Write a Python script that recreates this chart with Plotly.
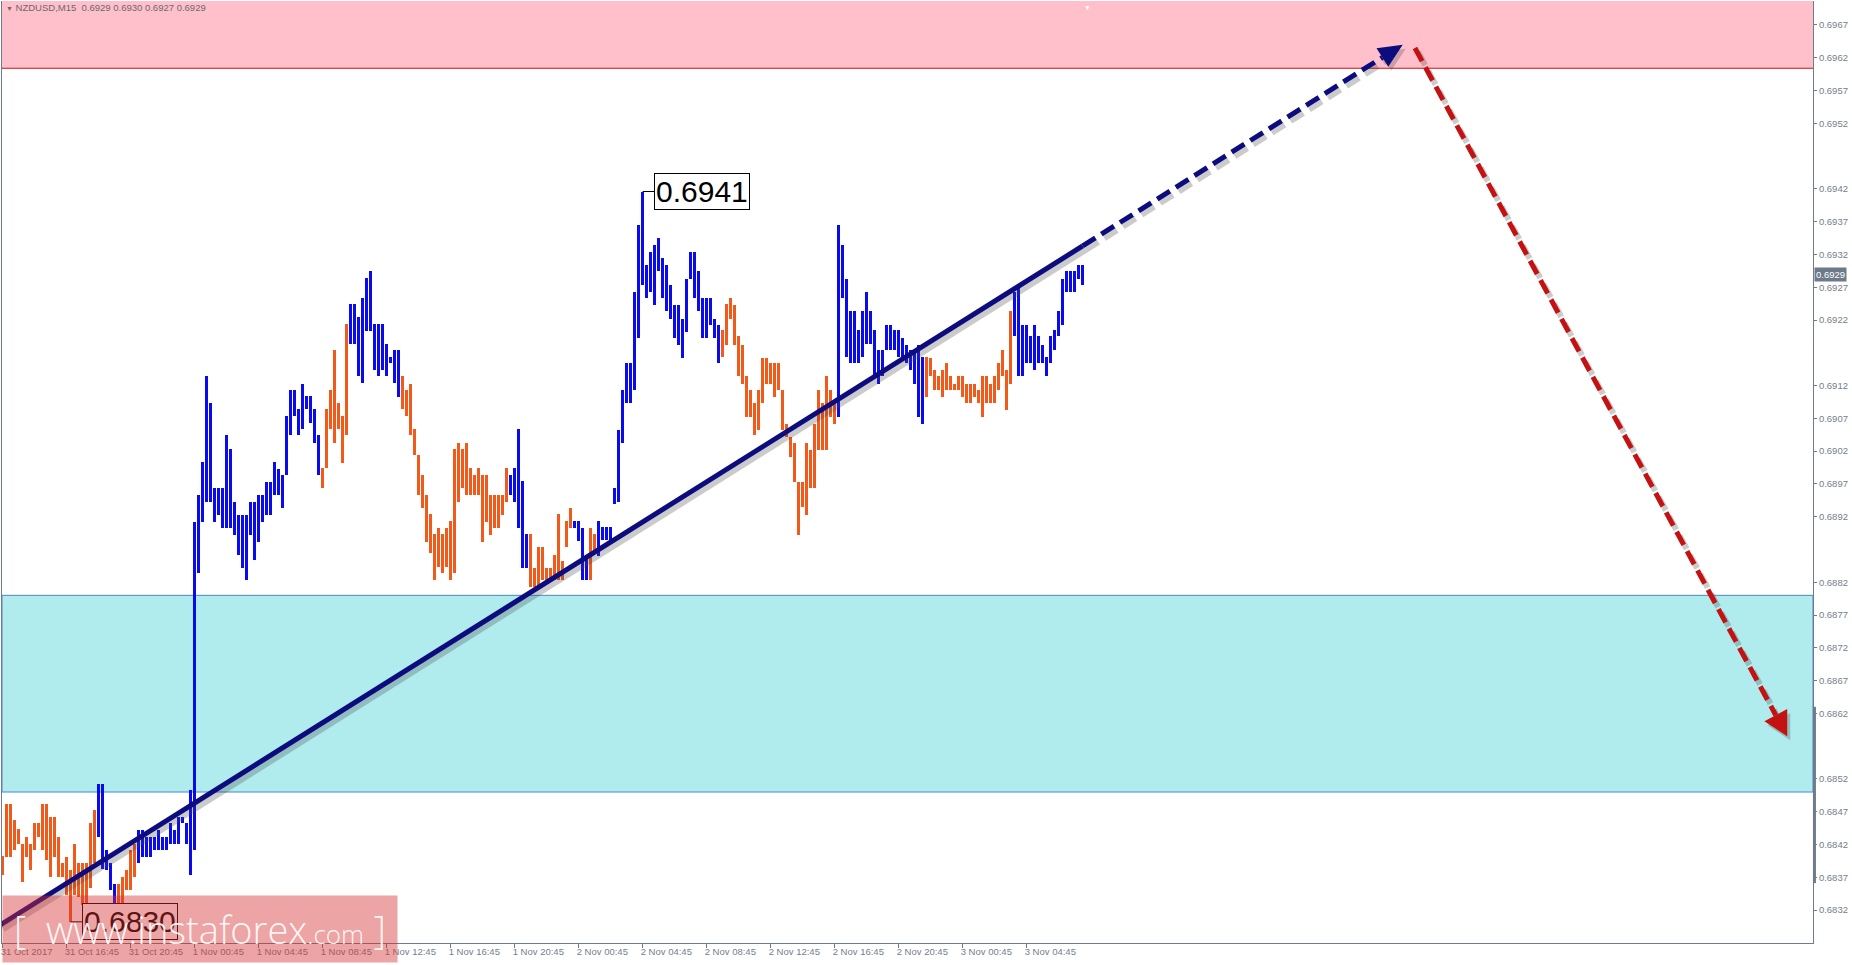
import numpy as np
import pandas as pd
import plotly.graph_objects as go

# ------------------------------------------------------------------ data
header_text = "NZDUSD,M15&nbsp;&nbsp;0.6929 0.6930 0.6927 0.6929"
last_close = 0.6929
first_bar_time = "2017-10-31 12:45"

bar_high = [
    0.68403, 0.68482, 0.68482, 0.68457, 0.68444, 0.68421, 0.68432, 0.68421, 0.68452, 0.68452,
    0.68482, 0.68482, 0.68462, 0.68462, 0.68432, 0.68391, 0.68401, 0.68381, 0.68421, 0.68391,
    0.68391, 0.68391, 0.68452, 0.68472, 0.68513, 0.68513, 0.68411, 0.68391, 0.68360, 0.68360,
    0.68371, 0.68381, 0.68411, 0.68421, 0.68442, 0.68442, 0.68432, 0.68432, 0.68432, 0.68442,
    0.68432, 0.68432, 0.68452, 0.68442, 0.68462, 0.68462, 0.68452, 0.68503, 0.68912, 0.68953,
    0.69004, 0.69135, 0.69094, 0.68963, 0.68963, 0.68963, 0.69045, 0.69023, 0.68943, 0.68923,
    0.68923, 0.68923, 0.68943, 0.68943, 0.68953, 0.68953, 0.68973, 0.68973, 0.69003, 0.68993,
    0.68984, 0.69074, 0.69114, 0.69114, 0.69084, 0.69123, 0.69104, 0.69104, 0.69084, 0.69045,
    0.68994, 0.69084, 0.69114, 0.69174, 0.69094, 0.69074, 0.69214, 0.69244, 0.69244, 0.69225,
    0.69254, 0.69284, 0.69295, 0.69214, 0.69214, 0.69214, 0.69183, 0.69164, 0.69174, 0.69174,
    0.69135, 0.69114, 0.69123, 0.69053, 0.69014, 0.68984, 0.68953, 0.68924, 0.68893, 0.68903,
    0.68893, 0.68903, 0.68913, 0.69023, 0.69033, 0.69023, 0.69033, 0.68994, 0.68984, 0.68994,
    0.68984, 0.68984, 0.68953, 0.68953, 0.68953, 0.68953, 0.68994, 0.68984, 0.68994, 0.69053,
    0.68974, 0.68893, 0.68893, 0.68842, 0.68873, 0.68873, 0.68842, 0.68842, 0.68862, 0.68924,
    0.68852, 0.68913, 0.68933, 0.68913, 0.68913, 0.68903, 0.68862, 0.68903, 0.68893, 0.68913,
    0.68905, 0.68905, 0.68905, 0.68963, 0.69052, 0.69113, 0.69154, 0.69154, 0.69263, 0.69365,
    0.69416, 0.69304, 0.69324, 0.69334, 0.69345, 0.69314, 0.69304, 0.69273, 0.69243, 0.69243,
    0.69222, 0.69283, 0.69324, 0.69324, 0.69294, 0.69253, 0.69253, 0.69253, 0.69222, 0.69212,
    0.69205, 0.69245, 0.69253, 0.69243, 0.69195, 0.69182, 0.69134, 0.69113, 0.69093, 0.69113,
    0.69162, 0.69162, 0.69154, 0.69154, 0.69154, 0.69113, 0.69062, 0.69042, 0.69032, 0.68973,
    0.68973, 0.69032, 0.69022, 0.69062, 0.69113, 0.69093, 0.69134, 0.69113, 0.69093, 0.69365,
    0.69334, 0.69283, 0.69233, 0.69233, 0.69205, 0.69233, 0.69263, 0.69233, 0.69205, 0.69174,
    0.69174, 0.69212, 0.69212, 0.69205, 0.69205, 0.69192, 0.69182, 0.69174, 0.69172, 0.69182,
    0.69164, 0.69164, 0.69162, 0.69144, 0.69134, 0.69144, 0.69154, 0.69134, 0.69123, 0.69134,
    0.69134, 0.69123, 0.69123, 0.69123, 0.69113, 0.69134, 0.69134, 0.69123, 0.69134, 0.69154,
    0.69174, 0.69144, 0.69233, 0.69263, 0.69273, 0.69212, 0.69212, 0.69195, 0.69212, 0.69195,
    0.69182, 0.69164, 0.69195, 0.69205, 0.69233, 0.69283, 0.69294, 0.69294, 0.69294, 0.69304,
    0.69304,
]
bar_low = [
    0.68373, 0.68401, 0.68401, 0.68411, 0.68421, 0.68363, 0.68401, 0.68381, 0.68411, 0.68432,
    0.68411, 0.68396, 0.68371, 0.68401, 0.68371, 0.68371, 0.68343, 0.68302, 0.68343, 0.68340,
    0.68327, 0.68330, 0.68353, 0.68391, 0.68432, 0.68383, 0.68381, 0.68350, 0.68322, 0.68322,
    0.68322, 0.68350, 0.68350, 0.68371, 0.68391, 0.68401, 0.68401, 0.68401, 0.68411, 0.68411,
    0.68411, 0.68411, 0.68421, 0.68421, 0.68421, 0.68452, 0.68421, 0.68373, 0.68411, 0.68834,
    0.68912, 0.68943, 0.68943, 0.68912, 0.68923, 0.68902, 0.68902, 0.68902, 0.68892, 0.68862,
    0.68841, 0.68823, 0.68892, 0.68854, 0.68882, 0.68912, 0.68923, 0.68923, 0.68953, 0.68953,
    0.68933, 0.68984, 0.69045, 0.69073, 0.69045, 0.69053, 0.69084, 0.69063, 0.69033, 0.68984,
    0.68963, 0.68994, 0.69053, 0.69033, 0.69053, 0.69002, 0.69045, 0.69183, 0.69183, 0.69135,
    0.69124, 0.69203, 0.69203, 0.69144, 0.69135, 0.69144, 0.69135, 0.69154, 0.69124, 0.69103,
    0.69084, 0.69074, 0.69045, 0.69014, 0.68953, 0.68933, 0.68882, 0.68864, 0.68823, 0.68844,
    0.68834, 0.68844, 0.68823, 0.68834, 0.68943, 0.68963, 0.68953, 0.68953, 0.68953, 0.68953,
    0.68882, 0.68912, 0.68892, 0.68902, 0.68902, 0.68923, 0.68943, 0.68953, 0.68943, 0.68903,
    0.68841, 0.68841, 0.68813, 0.68813, 0.68813, 0.68823, 0.68823, 0.68823, 0.68823, 0.68823,
    0.68823, 0.68873, 0.68903, 0.68903, 0.68883, 0.68823, 0.68823, 0.68823, 0.68864, 0.68860,
    0.68884, 0.68884, 0.68884, 0.68940, 0.68943, 0.69032, 0.69093, 0.69093, 0.69113, 0.69192,
    0.69273, 0.69253, 0.69263, 0.69243, 0.69294, 0.69253, 0.69233, 0.69222, 0.69192, 0.69182,
    0.69162, 0.69202, 0.69283, 0.69253, 0.69233, 0.69192, 0.69192, 0.69212, 0.69192, 0.69154,
    0.69164, 0.69182, 0.69222, 0.69182, 0.69134, 0.69123, 0.69072, 0.69072, 0.69045, 0.69052,
    0.69093, 0.69123, 0.69123, 0.69103, 0.69113, 0.69052, 0.69042, 0.69011, 0.68973, 0.68892,
    0.68935, 0.68922, 0.68963, 0.68963, 0.69022, 0.69022, 0.69022, 0.69072, 0.69062, 0.69072,
    0.69253, 0.69164, 0.69154, 0.69154, 0.69154, 0.69164, 0.69184, 0.69184, 0.69134, 0.69123,
    0.69134, 0.69174, 0.69174, 0.69174, 0.69164, 0.69164, 0.69154, 0.69144, 0.69123, 0.69072,
    0.69062, 0.69103, 0.69134, 0.69113, 0.69113, 0.69103, 0.69113, 0.69113, 0.69113, 0.69113,
    0.69103, 0.69093, 0.69093, 0.69103, 0.69093, 0.69072, 0.69093, 0.69093, 0.69093, 0.69113,
    0.69134, 0.69083, 0.69123, 0.69195, 0.69134, 0.69134, 0.69154, 0.69154, 0.69144, 0.69154,
    0.69154, 0.69134, 0.69154, 0.69174, 0.69195, 0.69212, 0.69263, 0.69263, 0.69263, 0.69283,
    0.69273,
]
# direction of each bar, as runs: U = bullish (blue), D = bearish (orange)
bar_dir_runs = [
    ("D", 24), ("U", 5), ("D", 5), ("U", 46), ("D", 7), ("U", 13), ("D", 27), ("U", 5),
    ("D", 11), ("U", 4), ("D", 2), ("U", 31), ("D", 29), ("U", 22), ("D", 22), ("U", 18),
]

# zones
sell_zone = (0.69604, 0.6990)
buy_zone = (0.6850, 0.6880)

# labelled extremes
marked_high = ("2017-11-02 04:45", "0.6941")
marked_low = ("2017-10-31 17:00", "0.6830")

# wave analysis: impulse line, forecast up, forecast down
wave_start = ("2017-10-31 12:35", 0.68297)
wave_now = ("2017-11-03 08:15", 0.69333)
forecast_top = ("2017-11-04 04:15", 0.69640)
forecast_down_start = ("2017-11-04 05:01", 0.69635)
forecast_down_end = ("2017-11-05 04:17", 0.68585)

# axis ticks
y_tick_values = [0.6967, 0.6962, 0.6957, 0.6952, 0.6942, 0.6937, 0.6932, 0.6927, 0.6922,
                 0.6912, 0.6907, 0.6902, 0.6897, 0.6892, 0.6882, 0.6877, 0.6872, 0.6867,
                 0.6862, 0.6852, 0.6847, 0.6842, 0.6837, 0.6832]
x_tick_labels = ["31 Oct 2017", "31 Oct 16:45", "31 Oct 20:45", "1 Nov 00:45", "1 Nov 04:45",
                 "1 Nov 08:45", "1 Nov 12:45", "1 Nov 16:45", "1 Nov 20:45", "2 Nov 00:45",
                 "2 Nov 04:45", "2 Nov 08:45", "2 Nov 12:45", "2 Nov 16:45", "2 Nov 20:45",
                 "3 Nov 00:45", "3 Nov 04:45"]

# ------------------------------------------------------------------ derived
W, H = 1852, 965
M_L, M_R, M_T, M_B = 2, 39, 1, 22
plot_w = W - M_L - M_R
plot_h = H - M_T - M_B

bar_dir = "".join(c * n for c, n in bar_dir_runs)
times = pd.date_range(first_bar_time, periods=len(bar_high), freq="15min")
hi = np.array(bar_high)
lo = np.array(bar_low)
up = np.array([c == "U" for c in bar_dir])

t0 = pd.Timestamp(first_bar_time)
x_range = [t0 - pd.Timedelta(minutes=2.625), t0 + pd.Timedelta(minutes=6788.6)]
y_range = [0.682697, 0.697066]
x_tick_vals = pd.date_range(first_bar_time, periods=len(x_tick_labels), freq="4h")

range_ms = (x_range[1] - x_range[0]).total_seconds() * 1000
px_per_ms = plot_w / range_ms
px_per_price = plot_h / (y_range[1] - y_range[0])


def to_px(t, p):
    t = pd.Timestamp(t)
    return ((t - x_range[0]).total_seconds() * 1000 * px_per_ms, (p - y_range[0]) * px_per_price)


def from_px(X, Y):
    return (x_range[0] + pd.Timedelta(milliseconds=X / px_per_ms), y_range[0] + Y / px_per_price)


def shifted(points, dx, dy):
    out_t, out_p = [], []
    for t, p in points:
        X, Y = to_px(t, p)
        tt, pp = from_px(X + dx, Y + dy)
        out_t.append(tt)
        out_p.append(pp)
    return out_t, out_p


def arrow_geom(start, end, length, half_w):
    x0, y0 = to_px(*start)
    x1, y1 = to_px(*end)
    d = np.hypot(x1 - x0, y1 - y0)
    ux, uy = (x1 - x0) / d, (y1 - y0) / d
    bx, by = x1 - length * ux, y1 - length * uy
    nx, ny = -uy, ux
    tri_px = [(x1, y1), (bx + half_w * nx, by + half_w * ny), (bx - half_w * nx, by - half_w * ny), (x1, y1)]
    base = from_px(bx, by)
    return base, tri_px


def px_trace(pts_px, dx=0, dy=0):
    ts, ps = [], []
    for X, Y in pts_px:
        t, p = from_px(X + dx, Y + dy)
        ts.append(t)
        ps.append(p)
    return ts, ps


BLUE = "#0A0AEE"
ORANGE = "#F25A1C"
NAVY = "#0C0C7E"
RED = "#C41212"
AXIS = "#6E7B8B"
LABEL = "#74808C"
SHADOW = "rgba(70,70,70,0.28)"

fig = go.Figure()

# bars
bw = 0.75 * 15 * 60 * 1000
for mask, col in [(~up, ORANGE), (up, BLUE)]:
    fig.add_trace(go.Bar(x=times[mask], y=(hi - lo)[mask], base=lo[mask], width=bw,
                         marker=dict(color=col, line=dict(width=0)), hoverinfo="skip"))

# impulse line (solid) + shadow
sx, sy = shifted([wave_start, wave_now], 3, -4)
fig.add_trace(go.Scatter(x=sx, y=sy, mode="lines", line=dict(color=SHADOW, width=6), hoverinfo="skip"))
fig.add_trace(go.Scatter(x=[pd.Timestamp(wave_start[0]), pd.Timestamp(wave_now[0])],
                         y=[wave_start[1], wave_now[1]], mode="lines",
                         line=dict(color=NAVY, width=5), hoverinfo="skip"))

# forecast arrows (dashed) with heads + shadows
for start, end, col, L, HW in [(wave_now, forecast_top, NAVY, 24, 11),
                               (forecast_down_start, forecast_down_end, RED, 24, 13)]:
    base, tri = arrow_geom(start, end, L, HW)
    st = (pd.Timestamp(start[0]), start[1])
    sx, sy = shifted([st, base], 3, -4)
    fig.add_trace(go.Scatter(x=sx, y=sy, mode="lines",
                             line=dict(color=SHADOW, width=6, dash="15px,7px"), hoverinfo="skip"))
    tx, ty = px_trace(tri, 3, -4)
    fig.add_trace(go.Scatter(x=tx, y=ty, mode="lines", fill="toself", fillcolor=SHADOW,
                             line=dict(width=0, color=SHADOW), hoverinfo="skip"))
    fig.add_trace(go.Scatter(x=[st[0], base[0]], y=[st[1], base[1]], mode="lines",
                             line=dict(color=col, width=5, dash="15px,7px"), hoverinfo="skip"))
    tx, ty = px_trace(tri)
    fig.add_trace(go.Scatter(x=tx, y=ty, mode="lines", fill="toself", fillcolor=col,
                             line=dict(width=0, color=col), hoverinfo="skip"))

# zones
fig.add_shape(type="rect", xref="paper", x0=0, x1=1, yref="y", y0=sell_zone[0], y1=sell_zone[1],
              fillcolor="#FFC0CB", line_width=0, layer="below")
fig.add_shape(type="line", xref="paper", x0=0, x1=1, yref="y", y0=sell_zone[0], y1=sell_zone[0],
              line=dict(color="#C81414", width=1), layer="below")
fig.add_shape(type="rect", xref="paper", x0=0, x1=1, yref="y", y0=buy_zone[0], y1=buy_zone[1],
              fillcolor="#B0ECEE", line=dict(color="#4A86D6", width=1), layer="below")

# grey marker on the price scale
fig.add_shape(type="line", xref="paper", x0=1.0008, x1=1.0008, yref="y", y0=0.68361, y1=0.68630,
              line=dict(color=AXIS, width=3), layer="above")

# labelled extremes
idx_hi = list(times).index(pd.Timestamp(marked_high[0]))
idx_lo = list(times).index(pd.Timestamp(marked_low[0]))
for t, p, txt in [(times[idx_lo], bar_low[idx_lo], marked_low[1]),
                  (times[idx_hi], bar_high[idx_hi], marked_high[1])]:
    fig.add_annotation(x=t, y=p, text=txt, showarrow=True, arrowhead=0, arrowwidth=1,
                       arrowcolor="black", ax=59, ay=0, bgcolor="white", bordercolor="black",
                       borderwidth=1, borderpad=1,
                       font=dict(family="Tahoma, Liberation Sans, Arial", size=30, color="black"))

# watermark
fig.add_annotation(xref="paper", yref="paper", x=(200 - M_L) / plot_w, y=(943 - 929) / plot_h,
                   xanchor="center", yanchor="middle", showarrow=False, width=392, height=64,
                   bgcolor="rgba(214,48,48,0.44)", borderpad=1,
                   text='[&nbsp;&nbsp;www.instaforex<span style="font-size:26px">.com</span>&nbsp;]',
                   font=dict(family="Open Sans, Liberation Sans", size=38, color="rgba(255,255,255,0.92)",
                             weight=300))

# header
fig.add_annotation(xref="paper", yref="paper", x=0.001, y=(943 - 8) / plot_h, xanchor="left",
                   yanchor="middle", showarrow=False,
                   text='<span style="font-size:7px">&#9660;</span>&nbsp;' + header_text,
                   font=dict(family="Tahoma, Liberation Sans", size=9.5, color="#6A6A6A"))

# chart-shift marker
fig.add_annotation(xref="paper", yref="paper", x=(1087 - M_L) / plot_w, y=1.0, xanchor="center",
                   yanchor="top", showarrow=False, text="&#9660;",
                   font=dict(size=7, color="white"))

# current price label
fig.add_annotation(xref="paper", yref="y", x=1, y=last_close, xanchor="left", yanchor="middle",
                   xshift=1, showarrow=False, text=f"{last_close:.4f}", bgcolor="#6C7A89",
                   borderpad=1, font=dict(family="Tahoma, Liberation Sans", size=9.5, color="white"))

fig.update_layout(
    width=W, height=H, margin=dict(l=M_L, r=M_R, t=M_T, b=M_B),
    plot_bgcolor="white", paper_bgcolor="white", showlegend=False,
    barmode="overlay", bargap=0,
)
fig.update_xaxes(type="date", range=x_range, showgrid=False, zeroline=False, showline=True,
                 linecolor=AXIS, linewidth=1, ticks="outside", ticklen=4, tickcolor=AXIS,
                 tickvals=x_tick_vals, ticktext=x_tick_labels, ticklabelposition="outside right",
                 ticklabelshift=-3,
                 tickfont=dict(family="Tahoma, Liberation Sans", size=9.5, color=LABEL))
fig.update_yaxes(range=y_range, side="right", showgrid=False, zeroline=False, showline=True,
                 mirror=True, linecolor=AXIS, linewidth=1, ticks="outside", ticklen=3,
                 tickcolor=AXIS, tickvals=y_tick_values,
                 ticktext=[f"{v:.4f}" for v in y_tick_values],
                 tickfont=dict(family="Tahoma, Liberation Sans", size=9.5, color=LABEL))

fig.write_html("out.html", config={"displayModeBar": False},
               post_script="document.body.style.margin='0';document.body.style.overflow='hidden';")
